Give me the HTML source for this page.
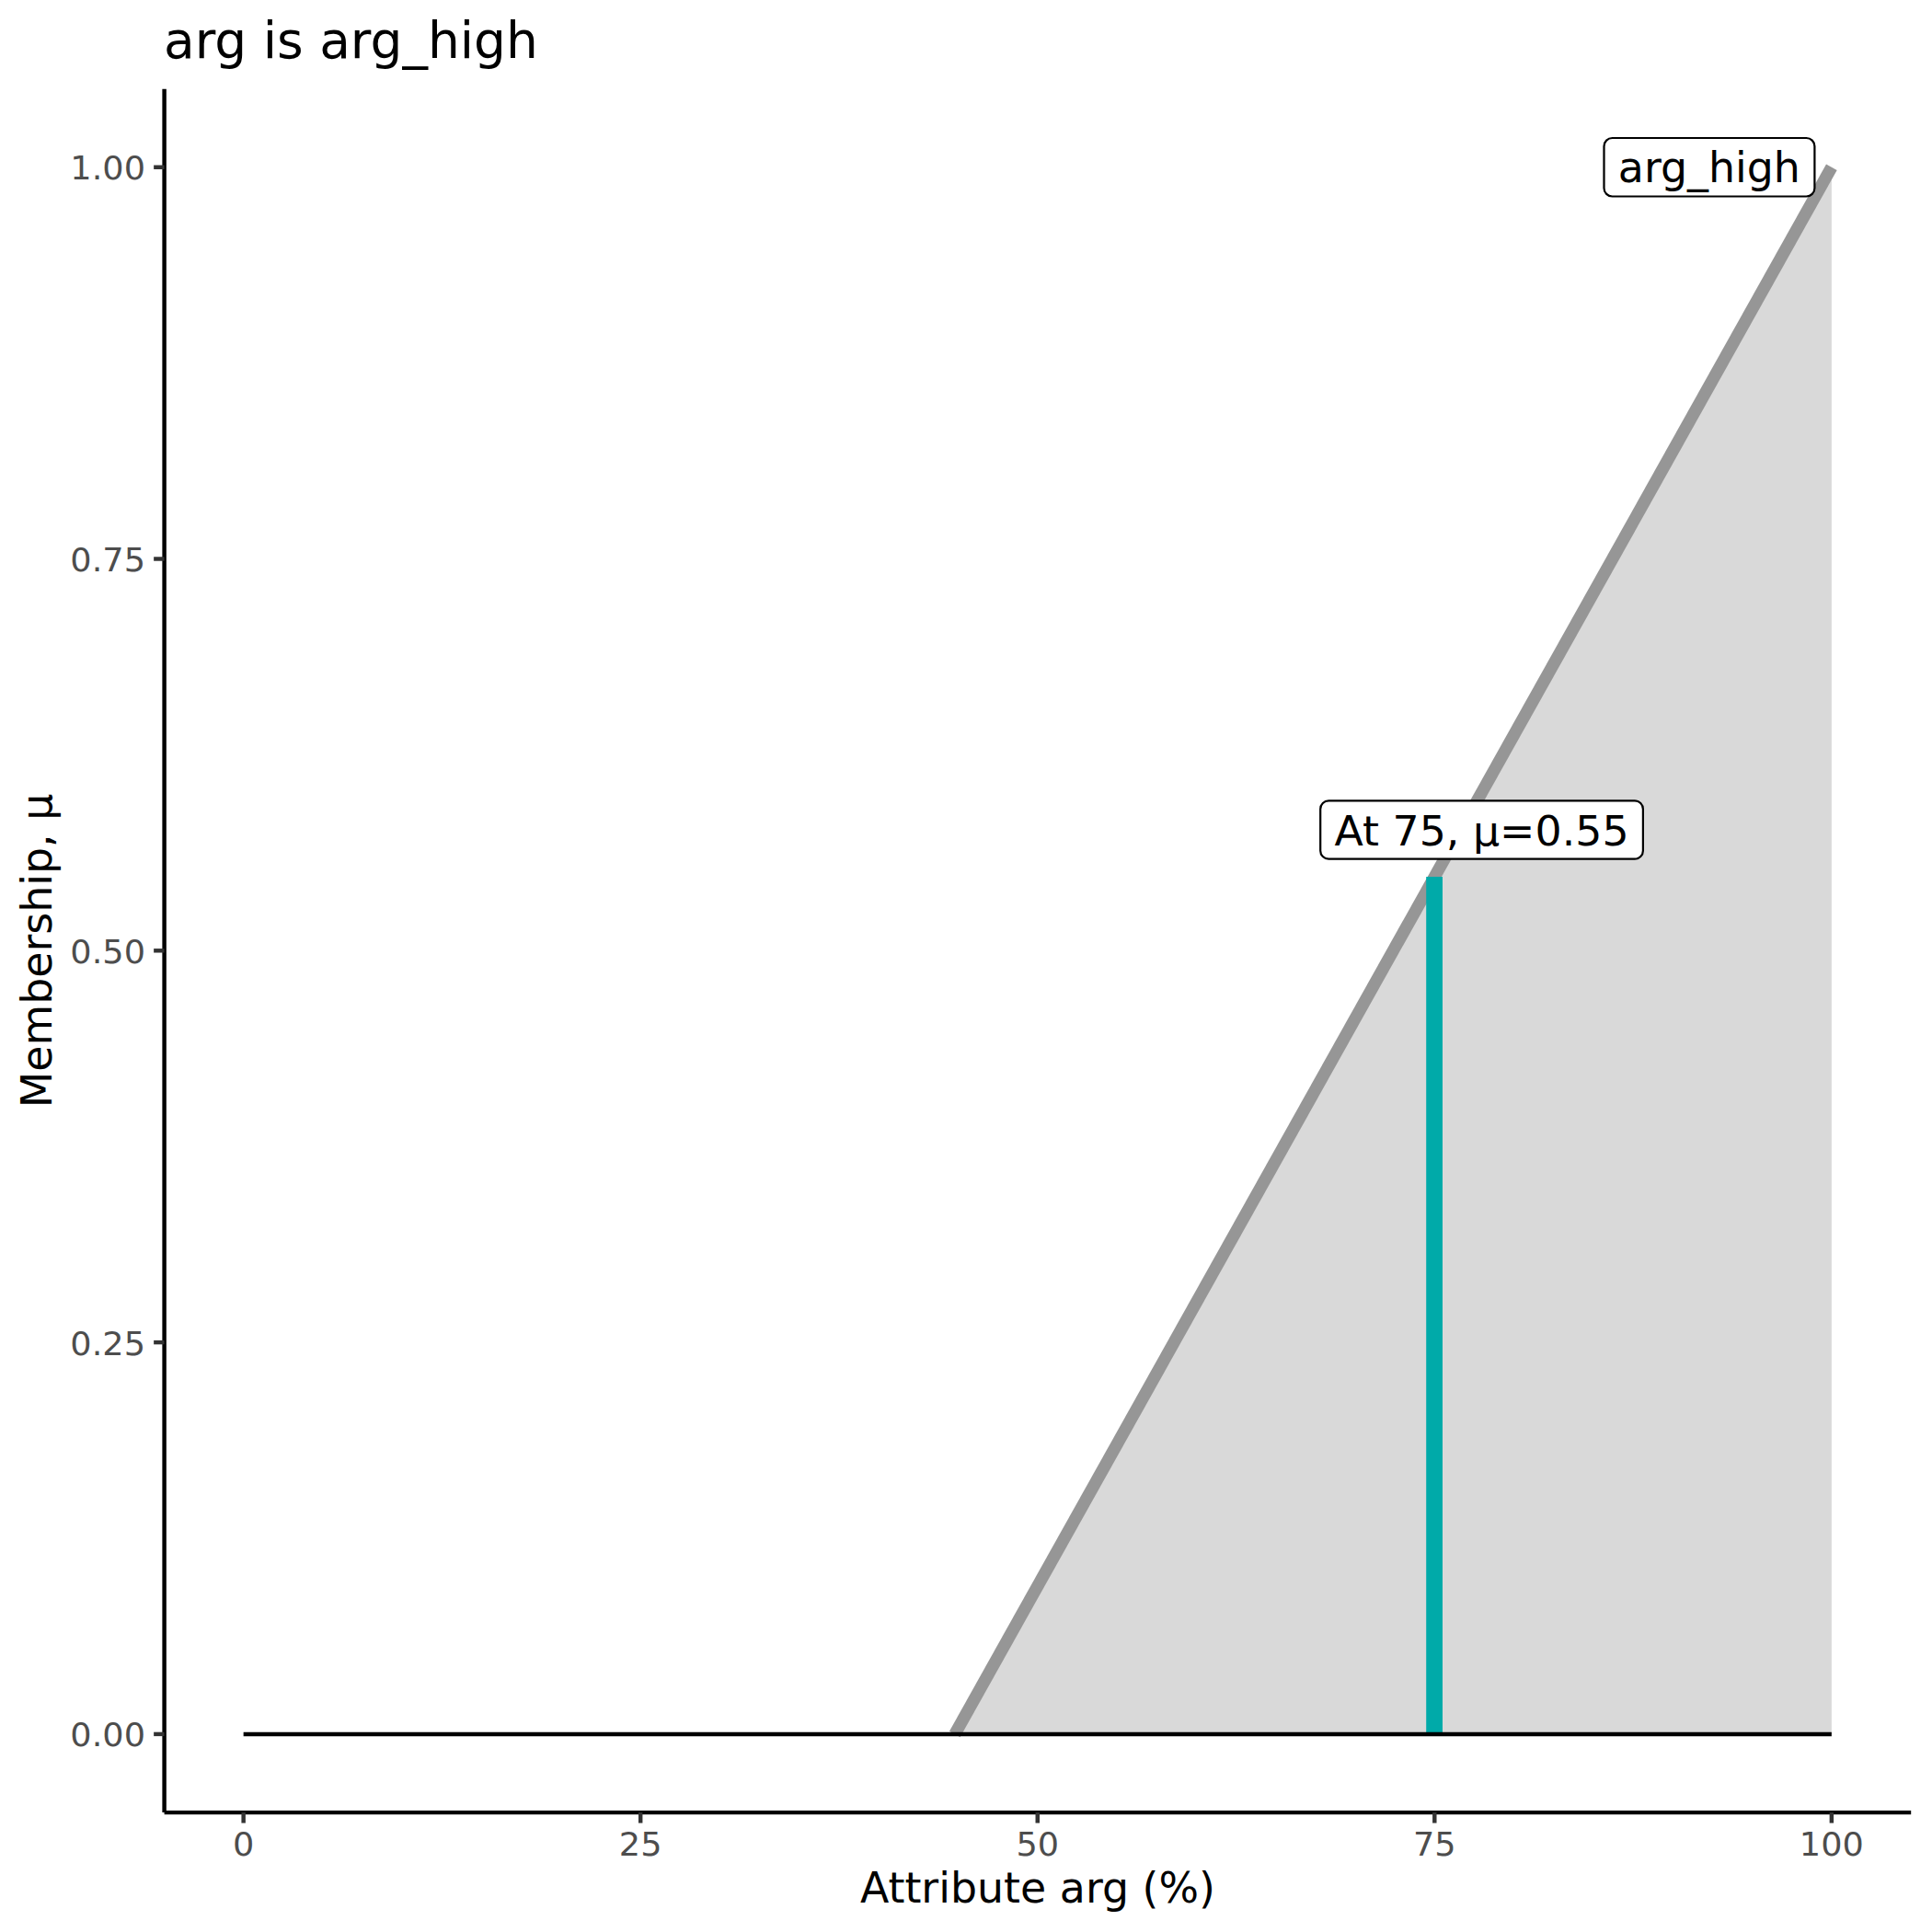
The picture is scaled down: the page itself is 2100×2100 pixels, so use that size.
<!DOCTYPE html>
<html lang="en">
<head>
<meta charset="utf-8">
<title>arg is arg_high</title>
<style>
  html, body { margin: 0; padding: 0; background: #ffffff; }
  body { width: 2100px; height: 2100px; overflow: hidden; }
  svg { display: block; }
  text { font-family: "DejaVu Sans", "Liberation Sans", sans-serif; }
  .tick { font-size: 36.67px; fill: #4d4d4d; }
  .axt { font-size: 45.83px; fill: #000000; }
  .lbl { font-size: 45.83px; fill: #000000; }
  .ttl { font-size: 55px; fill: #000000; }
</style>
</head>
<body>
<svg width="2100" height="2100" viewBox="0 0 2100 2100">
  <rect x="0" y="0" width="2100" height="2100" fill="#ffffff"/>

  <!-- title -->
  <text class="ttl" x="178" y="62.8">arg is arg_high</text>

  <!-- membership area -->
  <polygon points="1037.8,1884.9 1990.85,181.75 1990.85,1884.9" fill="#d9d9d9"/>
  <!-- membership line -->
  <line x1="1037.8" y1="1884.9" x2="1990.85" y2="181.75" stroke="#969696" stroke-width="13.34" stroke-linecap="butt"/>
  <!-- evaluation bar -->
  <line x1="1559.1" y1="1884.9" x2="1559.1" y2="952.9" stroke="#00aaa9" stroke-width="17.78" stroke-linecap="butt"/>
  <!-- baseline -->
  <line x1="264.65" y1="1884.9" x2="1990.85" y2="1884.9" stroke="#000000" stroke-width="4.45"/>

  <!-- labels -->
  <rect x="1743.5" y="150" width="228.9" height="63.5" rx="9" ry="9" fill="#ffffff" stroke="#000000" stroke-width="2.22"/>
  <text class="lbl" x="1857.85" y="197.9" text-anchor="middle">arg_high</text>
  <rect x="1435.2" y="870.4" width="350.7" height="63.3" rx="9" ry="9" fill="#ffffff" stroke="#000000" stroke-width="2.22"/>
  <text class="lbl" transform="translate(1610.5,918.5) scale(1,0.972)" text-anchor="middle">At 75, μ=0.55</text>

  <!-- axes -->
  <line x1="178.6" y1="96.75" x2="178.6" y2="1970.1" stroke="#000000" stroke-width="4.45"/>
  <line x1="178.6" y1="1970.1" x2="2077.2" y2="1970.1" stroke="#000000" stroke-width="4.45"/>

  <!-- y ticks -->
  <g stroke="#333333" stroke-width="4.45">
    <line x1="167.14" y1="1884.9" x2="178.6" y2="1884.9"/>
    <line x1="167.14" y1="1459.1" x2="178.6" y2="1459.1"/>
    <line x1="167.14" y1="1033.3" x2="178.6" y2="1033.3"/>
    <line x1="167.14" y1="607.5" x2="178.6" y2="607.5"/>
    <line x1="167.14" y1="181.75" x2="178.6" y2="181.75"/>
  </g>
  <g class="tick" text-anchor="end">
    <text transform="translate(158,1898.40) scale(1,0.966)">0.00</text>
    <text transform="translate(158,1472.60) scale(1,0.966)">0.25</text>
    <text transform="translate(158,1046.80) scale(1,0.966)">0.50</text>
    <text transform="translate(158,621.00) scale(1,0.966)">0.75</text>
    <text transform="translate(158,195.25) scale(1,0.966)">1.00</text>
  </g>

  <!-- x ticks -->
  <g stroke="#333333" stroke-width="4.45">
    <line x1="264.65" y1="1970.1" x2="264.65" y2="1981.56"/>
    <line x1="696.2" y1="1970.1" x2="696.2" y2="1981.56"/>
    <line x1="1127.75" y1="1970.1" x2="1127.75" y2="1981.56"/>
    <line x1="1559.3" y1="1970.1" x2="1559.3" y2="1981.56"/>
    <line x1="1990.85" y1="1970.1" x2="1990.85" y2="1981.56"/>
  </g>
  <g class="tick" text-anchor="middle">
    <text transform="translate(264.65,2016.7) scale(1,0.966)">0</text>
    <text transform="translate(696.2,2016.7) scale(1,0.966)">25</text>
    <text transform="translate(1127.75,2016.7) scale(1,0.966)">50</text>
    <text transform="translate(1559.3,2016.7) scale(1,0.966)">75</text>
    <text transform="translate(1990.85,2016.7) scale(1,0.966)">100</text>
  </g>

  <!-- axis titles -->
  <text class="axt" x="1127.9" y="2068.3" text-anchor="middle">Attribute arg (%)</text>
  <text class="axt" transform="translate(56,1033.4) rotate(-90)" text-anchor="middle">Membership, μ</text>
</svg>
</body>
</html>
